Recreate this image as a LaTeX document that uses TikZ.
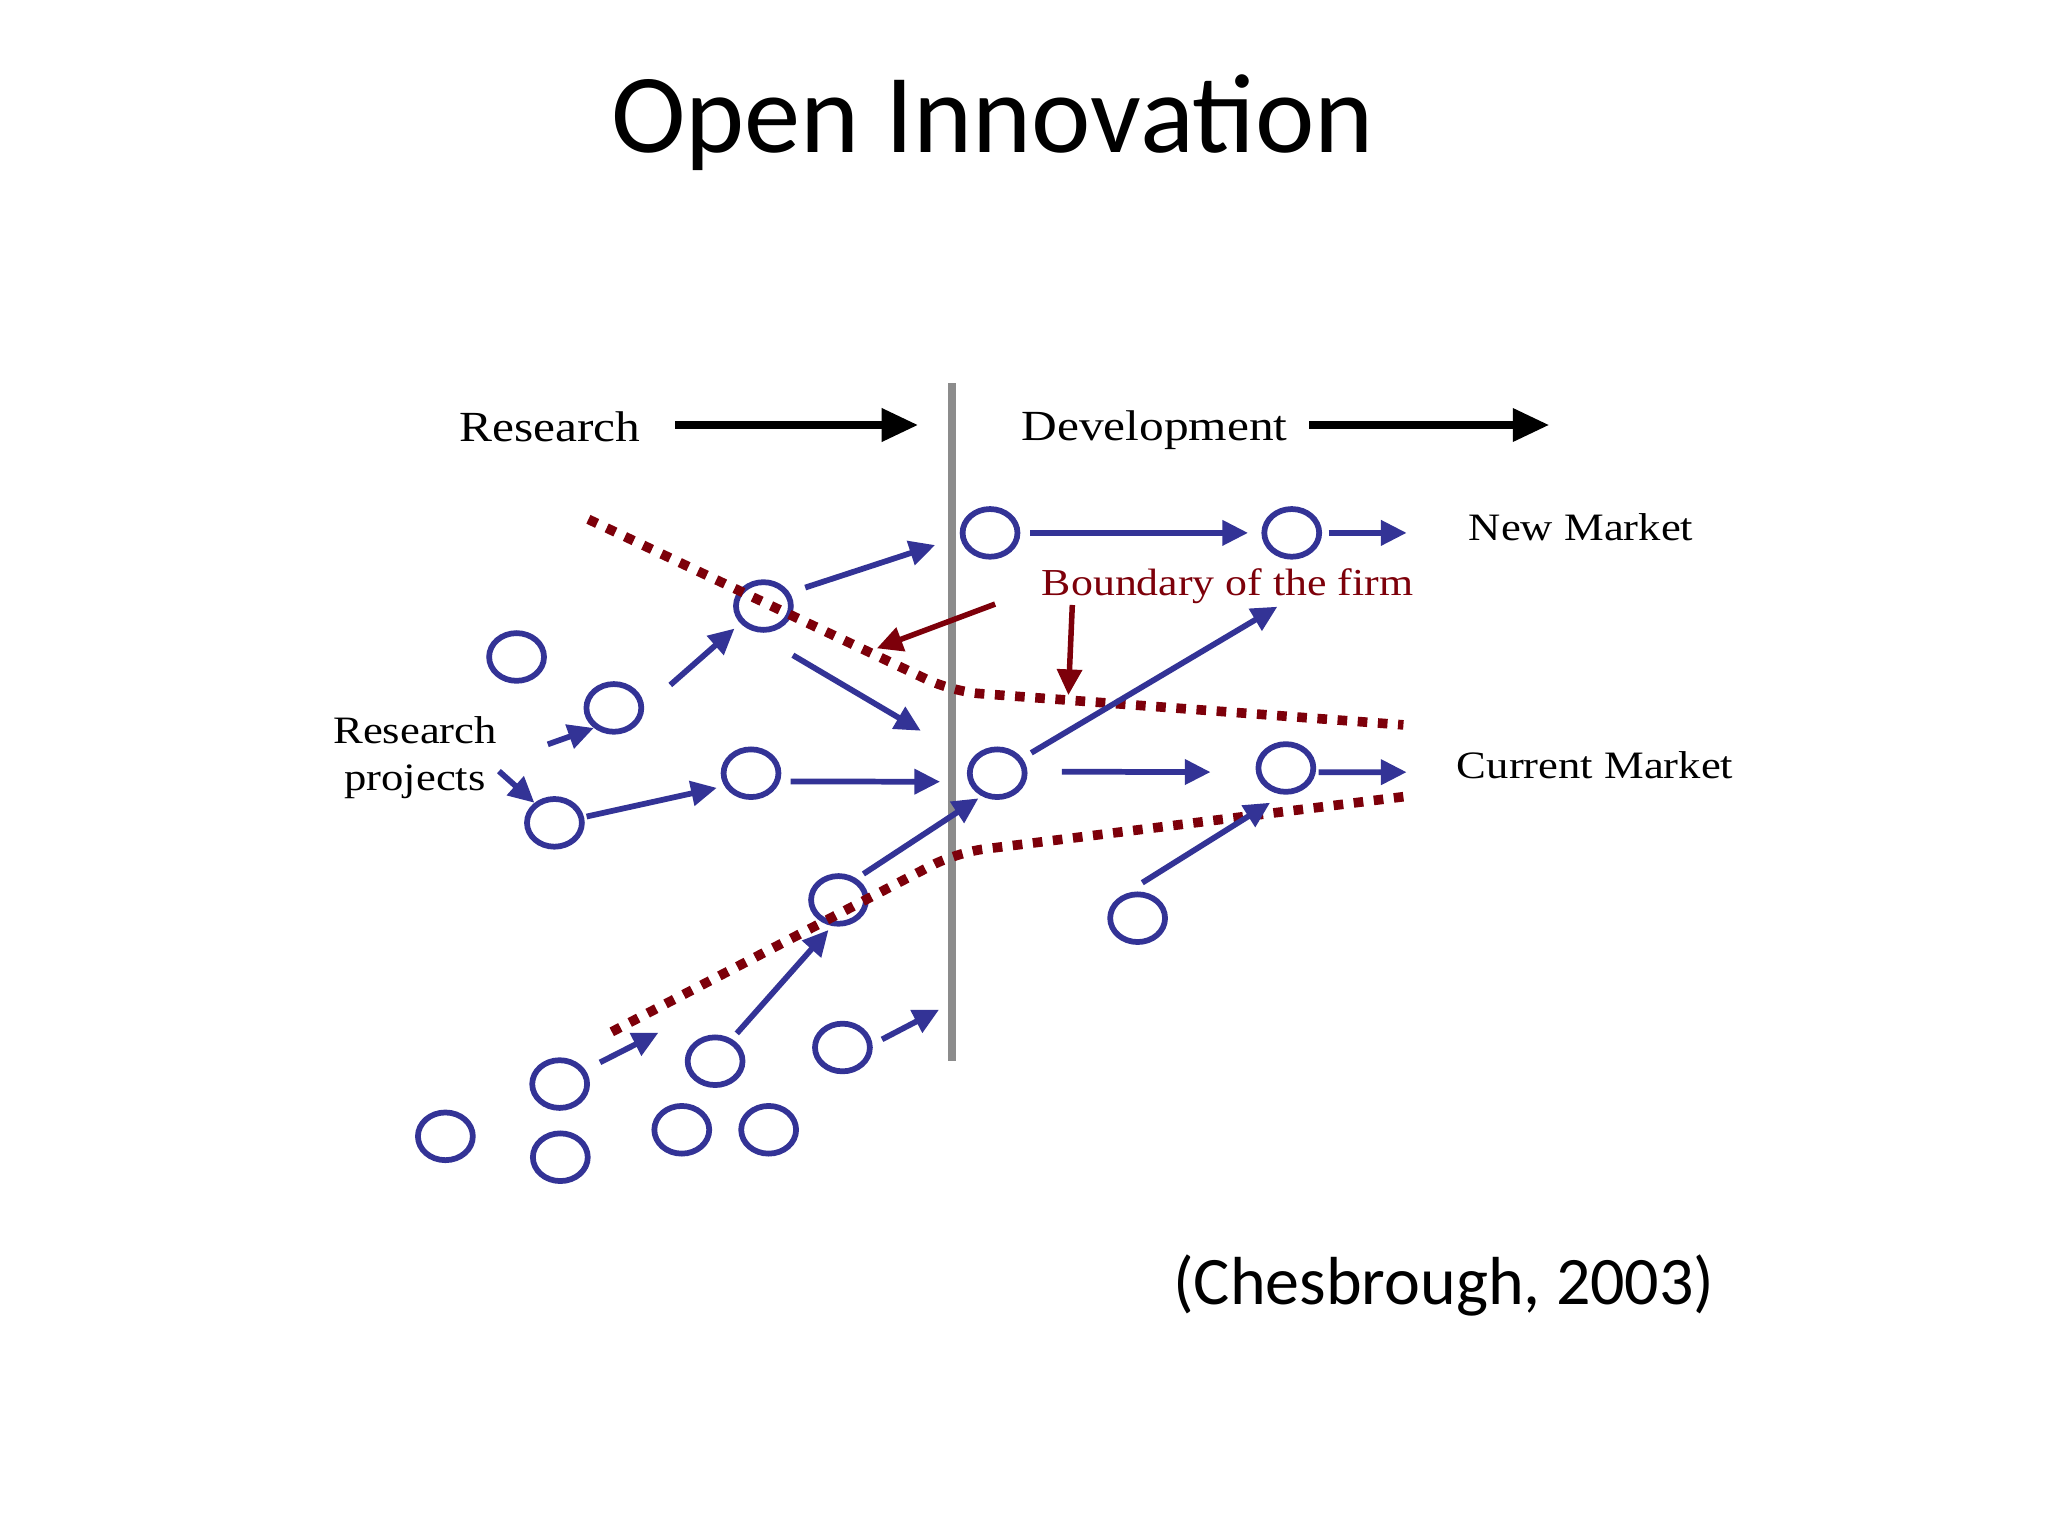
\documentclass[tikz,border=0pt]{standalone}
\usepackage{fontspec}
\newfontfamily\slidefont{Carlito}
\newfontfamily\figfont[FakeStretch=1.15]{Liberation Serif}
\usetikzlibrary{shapes.geometric}
\usetikzlibrary{arrows.meta}
\definecolor{projblue}{RGB}{51,51,150}
\definecolor{firmred}{RGB}{125,0,10}
\definecolor{phasegray}{RGB}{140,140,140}

\begin{document}
\begin{tikzpicture}[x=0.01cm,y=-0.01cm,>={Triangle[length=5.6pt,width=5.3pt]},
  project/.style={ellipse,draw=projblue,line width=1.25pt,inner sep=0pt,minimum width=0.42cm,minimum height=0.365cm},
  flow/.style={->,projblue,line width=1.25pt},
  pointer/.style={->,firmred,line width=1.2pt},
  phase/.style={-{Triangle[length=8pt,width=6.8pt]},black,line width=1.9pt},
  boundary/.style={firmred,line width=2.1pt,dash pattern=on 2.1pt off 2.3pt,rounded corners=6pt},
  figtext/.style={font=\figfont\fontsize{8.45}{10}\selectfont,inner sep=0pt,anchor=base}]

  \fill[white] (0,0) rectangle (1568,1176);
  \useasboundingbox (0,0) rectangle (1568,1176);

  \node[font=\slidefont\fontsize{24.5}{29}\selectfont,inner sep=0pt,anchor=base] (title) at (760,117) {Open Innovation};
  \node[font=\slidefont\fontsize{14.8}{18}\selectfont,inner sep=0pt,anchor=base] (source) at (1105.5,999) {(Chesbrough, 2003)};

  % research / development phases
  \draw[phasegray,line width=1.7pt] (728.7,293.5) -- (728.7,812);
  \node[figtext,font=\figfont\fontsize{9.35}{11}\selectfont] (research) at (421.1,338.2) {Research};
  \node[figtext,font=\figfont\fontsize{9.35}{11}\selectfont] (development) at (884,337.5) {Development};
  \coordinate (r1) at (516.8,325.4);
  \coordinate (r2) at (703.2,325.4);
  \coordinate (d1) at (1002.3,325.4);
  \coordinate (d2) at (1186.4,325.4);
  \draw[phase] (r1) -- (r2);
  \draw[phase] (d1) -- (d2);

  \node[figtext] (newmarket) at (1210.5,414) {New Market};
  \node[figtext] (currentmarket) at (1221.3,596) {Current Market};
  \node[figtext] (rp) at (317.8,569.2) {Research};
  \node[figtext] (rpb) at (317.7,605) {projects};
  \node[figtext,firmred,font=\figfont\fontsize{8.3}{10}\selectfont] (firm) at (939.9,455.6) {Boundary of the firm};

  % projects
  \node[project] at (395.5,503) (p1) {};
  \node[project] at (470,542) (p2) {};
  \node[project] at (584.5,464) (p3) {};
  \node[project] at (424.5,630) (p4) {};
  \node[project] at (575,592) (p5) {};
  \node[project] at (758,408) (p6) {};
  \node[project] at (989,408) (p7) {};
  \node[project] at (763.5,592) (p8) {};
  \node[project] at (984.5,588) (p9) {};
  \node[project] at (642,689) (p10) {};
  \node[project] at (871,703) (p11) {};
  \node[project] at (428.5,830) (p12) {};
  \node[project] at (547.5,812.5) (p13) {};
  \node[project] at (645,802) (p14) {};
  \node[project] at (341,870) (p15) {};
  \node[project] at (429,886) (p16) {};
  \node[project] at (522,865) (p17) {};
  \node[project] at (588.5,865) (p18) {};

  % boundary of the firm
  \draw[boundary] (450.5,397.6) -- (729.3,529.5) -- (1074.5,555);
  \draw[boundary] (468.4,790) -- (732.4,652.7) -- (1074.5,610);

  \coordinate (b1) at (761.9,462.5);
  \coordinate (b2) at (671.3,496.4);
  \coordinate (b3) at (821,463.2);
  \coordinate (b4) at (818,532.2);
  \draw[pointer] (b1) -- (b2);
  \draw[pointer] (b3) -- (b4);

  % free ends
  \coordinate (rp1) at (419.4,569.9);
  \coordinate (rp2) at (382,590.4);
  \coordinate (c1) at (716,417.3);
  \coordinate (c2) at (705,559.5);
  \coordinate (c3) at (719.8,598.5);
  \coordinate (c4) at (978,464.5);
  \coordinate (c5) at (1077,591.2);
  \coordinate (c6) at (504.1,790.7);
  \coordinate (c7) at (719,773);
  \coordinate (c8) at (1077,408);

  \path[flow]
  (rp1) edge (p2.225)
  (rp2) edge (p4.135)
  (p2.0) edge[shorten <=7.57pt,shorten >=1.71pt] (p3.217)
  (p4.11) edge[shorten <=0.57pt,shorten >=1.71pt] (p5.206)
  (p3.27.5) edge[shorten <=3.56pt] (c1)
  (p3.-118) edge[shorten <=10.7pt] (c2)
  (p5.-16.6) edge[shorten <=2.33pt] (c3)
  (p6.east) edge[shorten <=2.19pt,shorten >=2.9pt] (p7.west)
  (p7.east) edge[shorten <=1.42pt] (c8)
  (p8.31.7) edge[shorten <=2.28pt] (c4)
  (p8.3) edge[shorten <=7.51pt,shorten >=9.87pt] (p9.188)
  (p9.-8) edge[shorten <=0.6pt] (c5)
  (p10.50) edge[shorten <=1.79pt,shorten >=0.85pt] (p8.236)
  (p11.122) edge[shorten <=4.95pt,shorten >=3.33pt] (p9.264)
  (p13.53) edge[shorten <=1.62pt,shorten >=1.14pt] (p10.256)
  (p12.29) edge[shorten <=3.58pt] (c6)
  (p14.6) edge[shorten <=2.33pt] (c7)
  ;

\end{tikzpicture}
\end{document}
